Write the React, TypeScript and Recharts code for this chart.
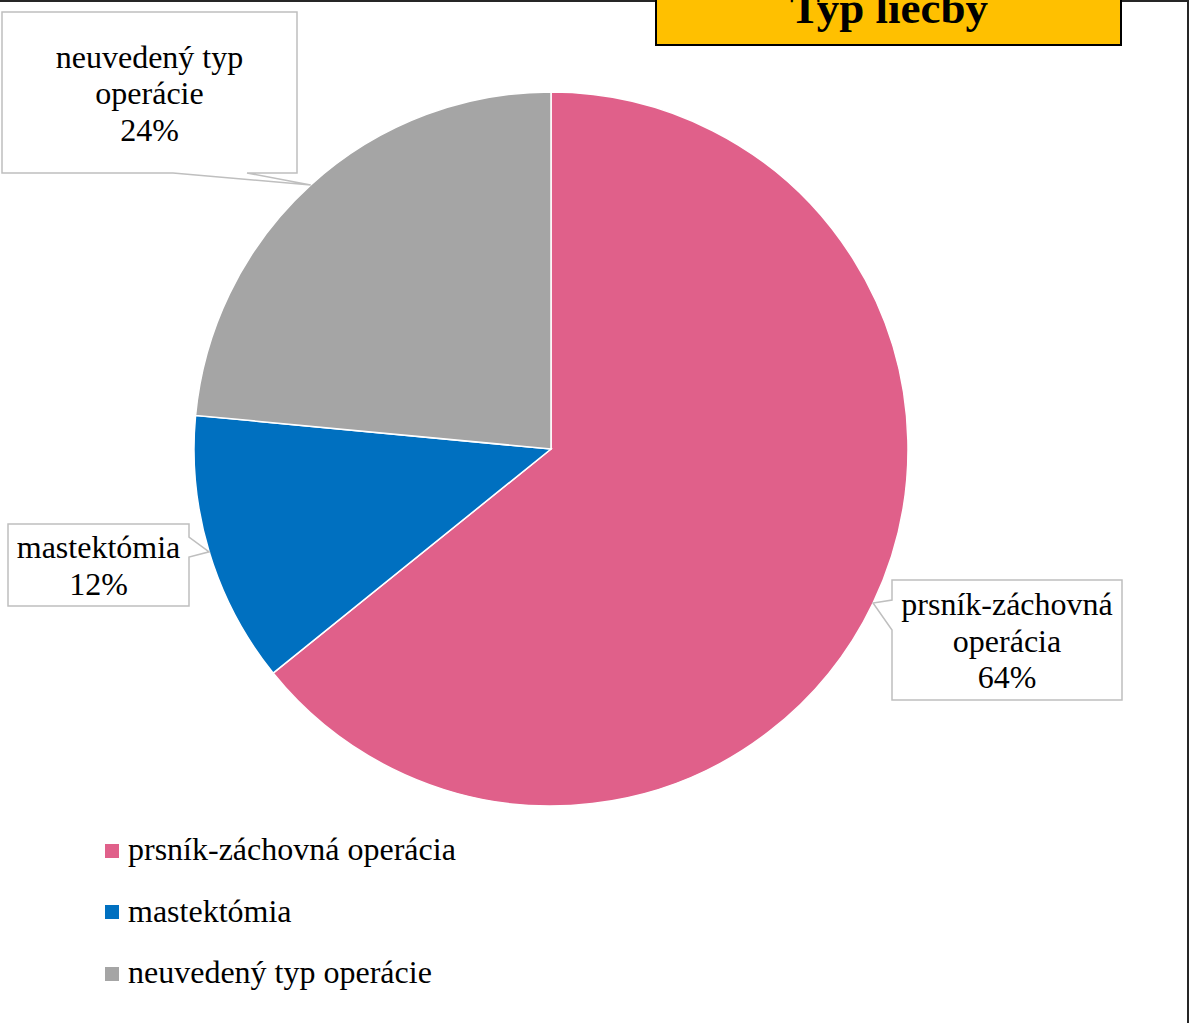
import { PieChart, Pie, Cell, Legend } from "recharts";

const categories = ["prsník-záchovná operácia", "mastektómia", "neuvedený typ operácie"];
const shares = [64.2, 12.3, 23.5];
const colors = ["#E0608A", "#0070C0", "#A5A5A5"];

const data = categories.map((name, i) => ({ name, value: shares[i], fill: colors[i] }));

const FONT = '"Liberation Serif", "Times New Roman", serif';

// callout boxes as Excel placed them; a/b = where the pointer leaves the box edge
const callouts = [
  { x: 892, y: 580, w: 230, h: 120, side: "left", a: 600, b: 630 },
  { x: 8, y: 524, w: 181, h: 82, side: "right", a: 537, b: 557 },
  { x: 2, y: 12, w: 295, h: 161, side: "bottom", a: 173, b: 247 },
];

function calloutPath(c: any, tx: number, ty: number) {
  const { x, y, w, h, side, a, b } = c;
  const r = x + w;
  const btm = y + h;
  if (side === "left") return `M${x},${y} H${r} V${btm} H${x} V${b} L${tx},${ty} L${x},${a} Z`;
  if (side === "right") return `M${x},${y} H${r} V${a} L${tx},${ty} L${r},${b} V${btm} H${x} Z`;
  return `M${x},${y} H${r} V${btm} H${b} L${tx},${ty} L${a},${btm} H${x} Z`;
}

const renderCallout = (props: any) => {
  const { cx, cy, midAngle, outerRadius, index, percent } = props;
  const RAD = Math.PI / 180;
  const tx = cx + outerRadius * Math.cos(-midAngle * RAD);
  const ty = cy + outerRadius * Math.sin(-midAngle * RAD);
  const c = callouts[index];
  const name: string = categories[index];
  const cut = name.lastIndexOf(" ");
  const lines = cut > 0 ? [name.slice(0, cut), name.slice(cut + 1)] : [name];
  lines.push(`${Math.round(percent * 100)}%`);
  const midX = c.x + c.w / 2;
  const midY = c.y + c.h / 2 + 11.5;
  return (
    <g key={`callout-${index}`}>
      <path d={calloutPath(c, tx, ty)} fill="#fff" stroke="#BFBFBF" strokeWidth={1.5} />
      {lines.map((t, i) => (
        <text
          key={i}
          x={midX}
          y={midY + (i - (lines.length - 1) / 2) * 36.5}
          textAnchor="middle"
          fontFamily={FONT}
          fontSize={32}
          fill="#000"
        >
          {t}
        </text>
      ))}
    </g>
  );
};

export default function App() {
  return (
    <div style={{ position: "absolute", left: 0, top: 0, width: 1191, height: 1023, background: "#fff" }}>
      <PieChart width={1191} height={1023} margin={{ top: 0, right: 0, bottom: 0, left: 0 }}>
        <Pie
          data={data}
          dataKey="value"
          nameKey="name"
          cx={551}
          cy={449}
          outerRadius={357}
          startAngle={90}
          endAngle={-270}
          stroke="#fff"
          strokeWidth={1.5}
          label={renderCallout}
          labelLine={false}
          isAnimationActive={false}
        >
          {data.map((d, i) => (
            <Cell key={i} fill={colors[i]} />
          ))}
        </Pie>
        <Legend
          layout="horizontal"
          verticalAlign="bottom"
          align="left"
          wrapperStyle={{ left: 105, top: 819, bottom: "auto", width: 600 }}
          content={(p: any) => {
            const items = [...(p.payload ?? [])].sort(
              (m: any, n: any) => categories.indexOf(m.value) - categories.indexOf(n.value)
            );
            return (
              <div>
                {items.map((e: any, i: number) => (
                  <div key={i} style={{ display: "flex", alignItems: "center", height: 61.5 }}>
                    <span
                      style={{
                        width: 14,
                        height: 14,
                        background: colors[categories.indexOf(e.value)],
                        marginRight: 9,
                        position: "relative",
                        top: 1,
                      }}
                    />
                    <span style={{ fontFamily: FONT, fontSize: 32, lineHeight: "61.5px", color: "#000" }}>
                      {e.value}
                    </span>
                  </div>
                ))}
              </div>
            );
          }}
        />
      </PieChart>
      <svg
        width={1191}
        height={1023}
        style={{ position: "absolute", left: 0, top: 0, pointerEvents: "none" }}
      >
        <line x1={0} y1={1} x2={1188} y2={1} stroke="#262626" strokeWidth={2} />
        <line x1={1188} y1={0} x2={1188} y2={1023} stroke="#262626" strokeWidth={2} />
        <rect x={656} y={-10} width={465} height={55} fill="#FFC000" stroke="#000" strokeWidth={2} />
        <text x={889} y={23} textAnchor="middle" fontFamily={FONT} fontSize={45} fontWeight="bold" fill="#000">
          Typ liečby
        </text>
      </svg>
    </div>
  );
}
